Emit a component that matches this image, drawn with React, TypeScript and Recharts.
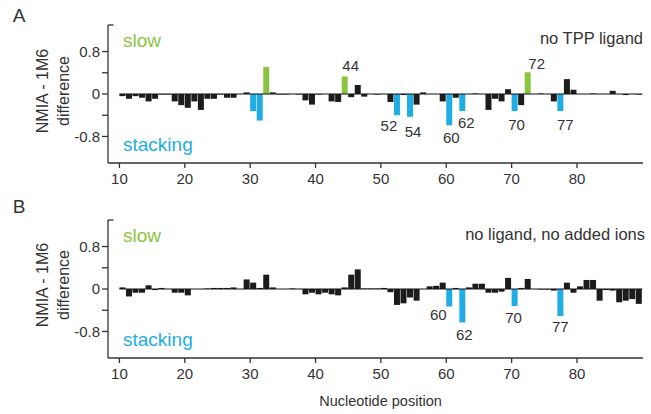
import React from 'react';
import { BarChart, Bar, XAxis, YAxis, ReferenceLine } from 'recharts';

// nucleotide numbering of the first bar in each panel
const FIRST_NT = 10;

const xTicks = [10, 20, 30, 40, 50, 60, 70, 80];
const yTicks = [-0.8, -0.4, 0, 0.4, 0.8];

// Panel A: no TPP ligand (nt 10..89)
const valuesA = [
  -0.04, -0.09, -0.04, -0.07, -0.14, -0.09, -0.01, -0.01, -0.14, -0.21,
  -0.26, -0.14, -0.3, -0.09, -0.09, -0.01, -0.07, -0.07, 0, 0.03,
  -0.32, -0.5, 0.51, 0.03, -0.01, -0.01, 0, -0.01, -0.12, -0.2,
  -0.01, 0, -0.14, -0.15, 0.33, -0.06, 0.17, -0.05, 0, -0.01,
  0, -0.15, -0.4, -0.02, -0.43, -0.2, 0.03, 0, 0, -0.14,
  -0.59, -0.07, -0.32, 0, 0.01, 0, -0.3, -0.09, -0.14, 0.09,
  -0.32, -0.21, 0.41, 0, 0.01, 0, -0.14, -0.32, 0.28, 0.08,
  0, 0, 0.01, 0, 0, 0.06, 0, -0.02, 0, -0.01,
];

// Panel B: no ligand, no added ions (nt 10..89)
const valuesB = [
  0.03, -0.14, -0.07, -0.07, 0.07, -0.02, 0.02, 0, -0.07, -0.07,
  -0.12, 0, 0, 0.01, 0.02, 0.02, 0.02, 0.03, 0, 0.18,
  0.12, 0.02, 0.27, 0.03, 0, 0, 0.01, 0, -0.1, -0.07,
  -0.1, -0.07, -0.1, -0.12, 0.03, 0.27, 0.37, 0.01, 0.01, 0.01,
  0.02, -0.06, -0.3, -0.27, -0.16, -0.22, 0, 0.05, 0.06, 0.12,
  -0.33, 0.02, -0.63, 0.03, 0.1, 0.1, -0.07, -0.07, -0.05, 0.21,
  -0.32, 0.02, 0.19, 0, -0.01, -0.01, -0.03, -0.51, 0.12, -0.07,
  0.05, 0.17, 0.17, -0.22, -0.02, -0.03, -0.25, -0.22, -0.19, -0.28,
];

const slowA = [32, 44, 72];
const stackingA = [30, 31, 52, 54, 60, 62, 70, 77];
const labelsA = [44, 52, 54, 60, 62, 70, 72, 77];

const slowB: number[] = [];
const stackingB = [60, 62, 70, 77];
const labelsB = [60, 62, 70, 77];

// small hand nudges of the number labels (px), as placed in the original figure
const nudgeA: Record<number, [number, number]> = {
  44: [6, 0], 72: [9, 2], 52: [-8, -1], 54: [3, 3], 60: [2, 1], 62: [4, 0], 70: [2, 2], 77: [5, 2],
};
const nudgeB: Record<number, [number, number]> = {
  60: [-11, -3], 62: [2, 1], 70: [-1, 0], 77: [0, -1],
};

const BLACK = '#1c1c1c';
const BLUE = '#1fade4';
const GREEN = '#8bc53f';
const TEXT = '#333333';
const FONT = '"Liberation Sans", Arial, Helvetica, sans-serif';

const buildRows = (
  values: number[], slow: number[], stacking: number[], labels: number[],
  nudge: Record<number, [number, number]>,
) =>
  values.map((v, i) => {
    const pos = FIRST_NT + i;
    return {
      pos,
      mid: pos + 0.5, // bar for nt n fills the slot n..n+1
      value: v,
      color: slow.includes(pos) ? GREEN : stacking.includes(pos) ? BLUE : BLACK,
      label: labels.includes(pos) ? String(pos) : '',
      nudge: nudge[pos] || [0, 0],
    };
  });

const rowsA = buildRows(valuesA, slowA, stackingA, labelsA, nudgeA);
const rowsB = buildRows(valuesB, slowB, stackingB, labelsB, nudgeB);

const W = 651;

// bar + its number label, drawn together so the label always sits on its own bar
const BarWithLabel = (p: any) => {
  const row = p.payload;
  const h = p.height || 0;
  const y0 = Math.min(p.y, p.y + h);
  const y1 = Math.max(p.y, p.y + h);
  const cx = p.x + p.width / 2;
  const [dx, dy] = row.nudge;
  return (
    <g>
      <rect x={p.x} y={y0} width={p.width} height={Math.max(y1 - y0, 0)} fill={row.color} />
      {row.label ? (
        <text
          x={cx + dx}
          y={(row.value >= 0 ? y0 - 9 : y1 + 13) + dy}
          textAnchor="middle"
          dominantBaseline="middle"
          fontSize={15}
          fill={TEXT}
          fontFamily={FONT}
        >
          {row.label}
        </text>
      ) : null}
    </g>
  );
};

const Panel = ({ rows, top, height, xLabel }: { rows: any[]; top: number; height: number; xLabel?: boolean }) => (
  <div style={{ position: 'absolute', left: 0, top, width: W, height }}>
    <BarChart
      width={W}
      height={height}
      data={rows}
      margin={{ top: 25, right: 8, left: 0, bottom: 2 }}
      style={{ fontFamily: FONT }}
    >
      <XAxis
        type="number"
        dataKey="mid"
        domain={[8.25, 90.1]}
        ticks={xTicks}
        allowDataOverflow
        height={height - 25 - 2 - 138}
        tick={{ fill: TEXT, fontSize: 15, dy: 3 }}
        tickSize={5}
        axisLine={{ stroke: TEXT, strokeWidth: 1.3 }}
        tickLine={{ stroke: TEXT, strokeWidth: 1.3 }}
        label={xLabel ? { value: 'Nucleotide position', position: 'insideBottom', offset: 6, dx: 5, fill: TEXT, fontSize: 14.5 } : undefined}
      />
      <YAxis
        type="number"
        domain={[-1.3, 1.3]}
        ticks={yTicks}
        width={108}
        tickFormatter={(v: number) => (Math.abs(v) === 0.4 ? '' : String(v))}
        tick={{ fill: TEXT, fontSize: 15 }}
        tickSize={6}
        axisLine={{ stroke: TEXT, strokeWidth: 1.3 }}
        tickLine={{ stroke: TEXT, strokeWidth: 1.3 }}
      />
      <ReferenceLine segment={[{ x: 8.25, y: 1.3 }, { x: 9.1, y: 1.3 }]} stroke={TEXT} strokeWidth={1.3} />
      <ReferenceLine segment={[{ x: 10, y: 0 }, { x: 90, y: 0 }]} stroke="#111" strokeWidth={1} />
      <Bar dataKey="value" barSize={6} isAnimationActive={false} shape={BarWithLabel} />
    </BarChart>
  </div>
);

const AxisTitle = ({ cy }: { cy: number }) => (
  <g fontSize={16} fill={TEXT} fontFamily={FONT} textAnchor="middle">
    <text x={44} y={cy} dominantBaseline="middle" transform={`rotate(-90 44 ${cy})`}>NMIA - 1M6</text>
    <text x={65} y={cy} dominantBaseline="middle" transform={`rotate(-90 65 ${cy})`}>difference</text>
  </g>
);

export default function App() {
  return (
    <div style={{ position: 'absolute', left: 0, top: 0, width: W, height: 414, background: '#fff', fontFamily: FONT }}>
      <Panel rows={rowsA} top={0} height={195} />
      <Panel rows={rowsB} top={195} height={219} xLabel />
      <svg width={W} height={414} style={{ position: 'absolute', left: 0, top: 0, pointerEvents: 'none' }}>
        <g fontFamily={FONT}>
          <text x={19} y={17} fontSize={19} fill={TEXT} textAnchor="middle" dominantBaseline="middle">A</text>
          <text x={19} y={208} fontSize={19} fill={TEXT} textAnchor="middle" dominantBaseline="middle">B</text>

          <text x={123} y={42} fontSize={19} fill={GREEN} dominantBaseline="middle">slow</text>
          <text x={123} y={146} fontSize={19} fill={BLUE} dominantBaseline="middle">stacking</text>
          <text x={643} y={40} fontSize={16.5} fill={TEXT} textAnchor="end" dominantBaseline="middle">no TPP ligand</text>

          <text x={123} y={237} fontSize={19} fill={GREEN} dominantBaseline="middle">slow</text>
          <text x={123} y={341} fontSize={19} fill={BLUE} dominantBaseline="middle">stacking</text>
          <text x={645} y={236} fontSize={16.5} fill={TEXT} textAnchor="end" dominantBaseline="middle">no ligand, no added ions</text>
        </g>
        <AxisTitle cy={91} />
        <AxisTitle cy={285} />
      </svg>
    </div>
  );
}
